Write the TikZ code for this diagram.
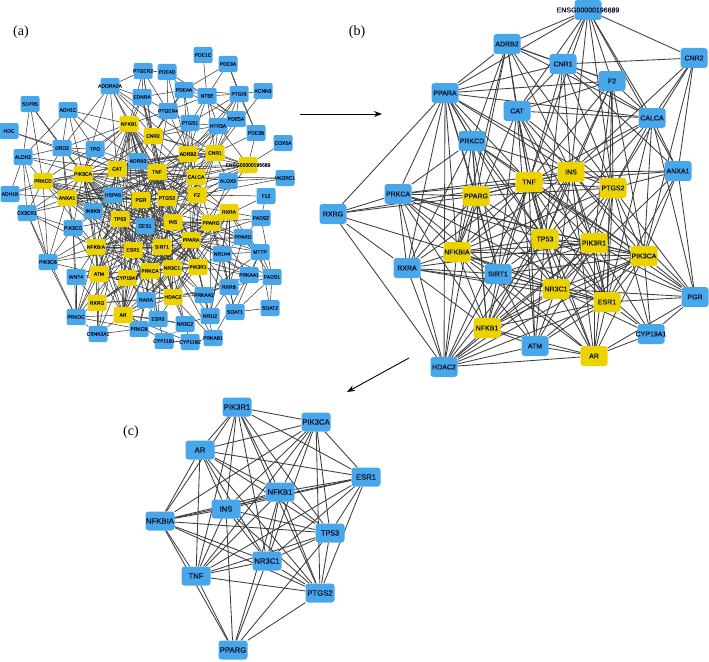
\documentclass[tikz,border=0pt]{standalone}
\usepackage{fontspec}
\setmainfont{Liberation Sans}
\newfontfamily\nodefont{Liberation Sans}[FakeBold=0.6]
\newfontfamily\labelfont{Liberation Serif}
\usetikzlibrary{arrows.meta,backgrounds}
\definecolor{nblue}{RGB}{72,166,234}
\definecolor{nyel}{RGB}{236,211,0}
\definecolor{edgec}{RGB}{62,62,62}
\definecolor{ntext}{RGB}{14,20,44}
\tikzset{
  gbox/.style={rectangle, inner sep=0pt, text=ntext},
  abox/.style={gbox, rounded corners=2pt, minimum width=19pt, minimum height=16pt, font=\nodefont\fontsize{5}{6}\selectfont},
  bbox/.style={gbox, rounded corners=3pt, minimum width=27pt, minimum height=20pt, font=\nodefont\fontsize{7}{8}\selectfont},
  cbox/.style={gbox, rounded corners=3pt, minimum width=29pt, minimum height=19pt, fill=nblue, font=\nodefont\fontsize{7.7}{9}\selectfont},
  aedge/.style={draw=edgec, line width=0.55pt},
  bedge/.style={draw=edgec, line width=0.85pt},
  plabel/.style={font=\labelfont\fontsize{14}{16}\selectfont, inner sep=0pt},
  flow/.style={-{Stealth[length=8pt,width=6pt]}, line width=0.9pt, draw=black}
}
\def\coreedges{TNF/INS,TNF/PTGS2,TNF/PPARG,TNF/NFKBIA,TNF/TP53,TNF/PIK3R1,TNF/PIK3CA,TNF/NR3C1,TNF/ESR1,TNF/NFKB1,TNF/AR,%
INS/PTGS2,INS/PPARG,INS/NFKBIA,INS/TP53,INS/PIK3R1,INS/PIK3CA,INS/NR3C1,INS/ESR1,INS/NFKB1,INS/AR,%
PTGS2/PPARG,PTGS2/NFKBIA,PTGS2/TP53,PTGS2/PIK3R1,PTGS2/PIK3CA,PTGS2/NR3C1,PTGS2/ESR1,PTGS2/NFKB1,PTGS2/AR,%
PPARG/NFKBIA,PPARG/TP53,PPARG/NR3C1,PPARG/NFKB1,%
NFKBIA/TP53,NFKBIA/PIK3R1,NFKBIA/PIK3CA,NFKBIA/NR3C1,NFKBIA/ESR1,NFKBIA/NFKB1,NFKBIA/AR,%
TP53/PIK3R1,TP53/PIK3CA,TP53/NR3C1,TP53/ESR1,TP53/NFKB1,TP53/AR,%
PIK3R1/PIK3CA,PIK3R1/NR3C1,PIK3R1/ESR1,PIK3R1/NFKB1,PIK3R1/AR,%
PIK3CA/NR3C1,PIK3CA/ESR1,PIK3CA/NFKB1,PIK3CA/AR,%
NR3C1/ESR1,NR3C1/NFKB1,NR3C1/AR,ESR1/NFKB1,ESR1/AR,NFKB1/AR}
\def\bperiph{ENSG/ADRB2,ENSG/PPARA,ENSG/CNR1,ENSG/CNR2,ENSG/F2,ENSG/CALCA,ENSG/INS,ENSG/TNF,ENSG/PTGS2,ENSG/ANXA1,ENSG/CAT,%
ADRB2/CNR1,ADRB2/F2,ADRB2/PPARA,ADRB2/CAT,ADRB2/TNF,ADRB2/INS,ADRB2/PTGS2,ADRB2/CALCA,ADRB2/PRKCD,ADRB2/PPARG,ADRB2/NFKBIA,%
CNR1/CNR2,CNR1/F2,CNR1/CALCA,CNR1/PPARA,CNR1/INS,CNR1/TNF,CNR1/PTGS2,CNR1/TP53,CNR1/CAT,CNR1/ANXA1,%
CNR2/CALCA,CNR2/ANXA1,CNR2/INS,CNR2/PTGS2,CNR2/PIK3CA,%
F2/CALCA,F2/INS,F2/TNF,F2/PTGS2,F2/PPARA,F2/CAT,F2/TP53,F2/PIK3R1,F2/ESR1,F2/PIK3CA,%
PPARA/CALCA,PPARA/PRKCD,PPARA/RXRG,PPARA/RXRA,PPARA/PPARG,PPARA/TNF,PPARA/INS,PPARA/PTGS2,PPARA/NFKBIA,PPARA/SIRT1,PPARA/NR3C1,PPARA/TP53,PPARA/PRKCA,%
CAT/INS,CAT/TNF,CAT/PTGS2,CAT/CALCA,CAT/TP53,CAT/NFKBIA,CAT/SIRT1,CAT/ESR1,CAT/PIK3R1,CAT/ATM,%
CALCA/INS,CALCA/TNF,CALCA/PTGS2,CALCA/ANXA1,CALCA/PIK3CA,CALCA/PGR,CALCA/ESR1,CALCA/TP53,%
PRKCD/PRKCA,PRKCD/TNF,PRKCD/INS,PRKCD/PPARG,PRKCD/TP53,PRKCD/NFKBIA,PRKCD/SIRT1,PRKCD/PIK3CA,PRKCD/RXRA,PRKCD/NFKB1,%
ANXA1/INS,ANXA1/PTGS2,ANXA1/TNF,ANXA1/PIK3CA,ANXA1/ESR1,ANXA1/NR3C1,ANXA1/PGR,%
PRKCA/PPARG,PRKCA/RXRG,PRKCA/RXRA,PRKCA/TNF,PRKCA/INS,PRKCA/NFKBIA,PRKCA/TP53,PRKCA/PIK3R1,PRKCA/PIK3CA,PRKCA/NFKB1,PRKCA/SIRT1,PRKCA/ESR1,PRKCA/HDAC2,%
RXRG/PPARG,RXRG/RXRA,RXRG/HDAC2,RXRG/NFKBIA,RXRG/TNF,%
RXRA/PPARG,RXRA/NFKBIA,RXRA/TNF,RXRA/SIRT1,RXRA/NR3C1,RXRA/HDAC2,RXRA/NFKB1,RXRA/ESR1,RXRA/PIK3R1,%
SIRT1/TNF,SIRT1/INS,SIRT1/PPARG,SIRT1/NFKBIA,SIRT1/TP53,SIRT1/PIK3R1,SIRT1/NR3C1,SIRT1/ESR1,SIRT1/NFKB1,SIRT1/AR,SIRT1/PIK3CA,SIRT1/HDAC2,SIRT1/ATM,%
PGR/PIK3CA,PGR/ESR1,PGR/AR,PGR/CYP19A1,PGR/TP53,PGR/PIK3R1,PGR/NR3C1,PGR/PTGS2,PGR/INS,PGR/TNF,%
CYP19A1/ESR1,CYP19A1/AR,CYP19A1/PIK3CA,CYP19A1/NR3C1,CYP19A1/PTGS2,CYP19A1/PIK3R1,CYP19A1/TP53,%
ATM/TP53,ATM/NFKB1,ATM/NR3C1,ATM/ESR1,ATM/AR,ATM/HDAC2,ATM/PIK3CA,ATM/NFKBIA,ATM/TNF,ATM/PIK3R1,%
HDAC2/NFKBIA,HDAC2/NFKB1,HDAC2/TP53,HDAC2/NR3C1,HDAC2/ESR1,HDAC2/AR,HDAC2/PIK3R1,HDAC2/PIK3CA,HDAC2/PPARG,HDAC2/TNF,HDAC2/PPARA}
\def\aperiph{HDC/DRD2,HDC/CAT,S1PR5/ALDH2,S1PR5/DRD2,S1PR5/PIK3CA,S1PR5/PRKCD,%
ADH1C/DRD2,ADH1C/ALDH2,ADH1C/NFKB1,ADH1C/TPO,ADH1C/PIK3CA,ADH1C/ADRB3,%
ADORA2A/DRD2,ADORA2A/NFKB1,ADORA2A/EDNRA,ADORA2A/PTGER2,ADORA2A/PIK3CA,ADORA2A/CAT,ADORA2A/TNF,ADORA2A/ADRB2,ADORA2A/CNR2,ADORA2A/CNR1,%
PTGER2/EDNRA,PTGER2/PDE4D,PTGER2/PTGER4,PTGER2/NFKB1,PTGER2/CNR2,PTGER2/TNF,%
EDNRA/NFKB1,EDNRA/PTGER4,EDNRA/PDE4A,EDNRA/CNR2,EDNRA/TNF,EDNRA/CAT,EDNRA/PTGS2,%
DRD2/ALDH2,DRD2/TPO,DRD2/PIK3CA,DRD2/CAT,DRD2/PRKCD,DRD2/ANXA1,DRD2/PIK3CD,DRD2/TNF,DRD2/NFKB1,%
TPO/CAT,TPO/PIK3CA,TPO/ANXA1,TPO/NFKB1,TPO/TNF,%
ALDH2/PIK3CA,ALDH2/CAT,ALDH2/ADH1B,ALDH2/PRKCD,ALDH2/CX3CR1,ALDH2/PIK3CB,%
ADH1B/PRKCD,ADH1B/ANXA1,ADH1B/PIK3CA,%
CX3CR1/PRKCD,CX3CR1/ANXA1,CX3CR1/PIK3CD,CX3CR1/PIK3CB,CX3CR1/PRKDC,CX3CR1/NFKBIA,CX3CR1/PIK3CA,CX3CR1/HSPA5,%
PIK3CD/PIK3CB,PIK3CD/ANXA1,PIK3CD/IKBKB,PIK3CD/NFKBIA,PIK3CD/PIK3CA,PIK3CD/TP53,PIK3CD/ATM,PIK3CD/WNT4,PIK3CD/PRKDC,PIK3CD/TNF,%
PIK3CB/NFKBIA,PIK3CB/ATM,PIK3CB/PRKDC,PIK3CB/PRKCD,PIK3CB/ANXA1,PIK3CB/TP53,PIK3CB/ESR1,%
WNT4/ATM,WNT4/NFKBIA,WNT4/PRKDC,WNT4/RXRG,WNT4/ESR1,WNT4/CYP19A1,%
PRKDC/RXRG,PRKDC/AR,PRKDC/ATM,PRKDC/CSNK2A1,PRKDC/NFKBIA,PRKDC/TP53,PRKDC/ESR1,PRKDC/PRKCB,%
CSNK2A1/AR,CSNK2A1/RXRG,CSNK2A1/ATM,CSNK2A1/ESR1,CSNK2A1/TP53,CSNK2A1/PRKCB,CSNK2A1/NFKBIA,%
PRKCB/AR,PRKCB/RARA,PRKCB/ESR2,PRKCB/PRKCA,PRKCB/NFKBIA,%
RARA/RXRG,RARA/AR,RARA/CYP19A1,RARA/ESR1,RARA/HDAC2,RARA/PRKCA,RARA/RXRA,RARA/PPARG,RARA/PPARA,RARA/RXRB,%
ESR2/AR,ESR2/HDAC2,ESR2/ESR1,ESR2/CYP19A1,ESR2/NR3C2,ESR2/PRKCA,ESR2/SIRT1,ESR2/PGR,%
NR3C2/AR,NR3C2/NR3C1,NR3C2/HDAC2,NR3C2/PGR,NR3C2/NR1I2,%
CYP11B1/NR3C2,CYP11B1/ESR2,CYP11B1/AR,CYP11B1/CYP11B2,CYP11B2/NR3C2,CYP11B2/PRKAB1,CYP11B2/AR,%
PRKAB1/PRKAA2,PRKAB1/PRKAA1,PRKAB1/SIRT1,PRKAB1/HDAC2,%
NR1I2/NR1H4,NR1I2/RXRA,NR1I2/PPARA,NR1I2/PPARG,NR1I2/PRKAA2,NR1I2/RXRB,NR1I2/NR3C1,%
SOAT1/SOAT2,SOAT1/MTTP,SOAT1/PPARA,SOAT1/NR1H4,SOAT1/RXRB,SOAT1/FADS1,SOAT2/FADS1,SOAT2/MTTP,%
RXRB/NR1H4,RXRB/PPARA,RXRB/RXRA,RXRB/PPARG,RXRB/PPARD,RXRB/PRKAA1,RXRB/HDAC2,RXRB/FADS1,%
PRKAA2/PRKAA1,PRKAA2/SIRT1,PRKAA2/PIK3R1,PRKAA2/HDAC2,PRKAA2/NR3C1,PRKAA2/PPARA,PRKAA2/MTTP,%
PRKAA1/SIRT1,PRKAA1/PPARA,PRKAA1/MTTP,PRKAA1/FADS1,PRKAA1/PPARG,PRKAA1/INS,PRKAA1/PIK3R1,%
FADS1/FADS2,FADS1/MTTP,FADS1/PPARD,FADS1/PPARA,%
MTTP/PPARA,MTTP/NR1H4,MTTP/PPARG,MTTP/PPARD,MTTP/INS,MTTP/RXRA,%
NR1H4/PPARA,NR1H4/PPARG,NR1H4/RXRA,NR1H4/PPARD,NR1H4/PIK3R1,%
PPARD/PPARA,PPARD/PPARG,PPARD/RXRA,PPARD/FADS2,PPARD/INS,PPARD/SIRT1,%
FADS2/PPARA,FADS2/RXRA,FADS2/PPARG,F12/F2,F12/FADS2,F12/PPARG,VKORC1/F2,VKORC1/ALOX5,VKORC1/CALCA,%
ALOX5/ENSG,ALOX5/PTGS2,ALOX5/CALCA,ALOX5/TNF,ALOX5/INS,ALOX5/PPARG,ALOX5/CNR1,COX5A/ENSG,%
PDE3B/PTGIS,PDE3B/PDE5A,PDE3B/ENSG,PDE3B/CNR1,PDE3B/NT5E,PDE3B/PDE3A,KCNN3/PTGIS,KCNN3/CNR1,%
PTGIS/PDE3A,PTGIS/NT5E,PTGIS/PDE4A,PTGIS/PTGS1,PTGIS/PDE5A,PTGIS/ADRB2,PTGIS/CNR1,PTGIS/PTGS2,%
PDE5A/NT5E,PDE5A/PDE4A,PDE5A/CNR1,PDE5A/HTR3A,PDE5A/ADRB2,%
HTR3A/CNR1,HTR3A/CNR2,HTR3A/PTGS1,HTR3A/ADRB2,HTR3A/TNF,HTR3A/CALCA,HTR3A/NT5E,HTR3A/ENSG,%
PTGS1/PTGS2,PTGS1/CNR2,PTGS1/ADRB2,PTGS1/TNF,PTGS1/PDE4A,PTGS1/CALCA,PTGS1/PTGER4,PTGS1/NT5E,%
NT5E/PDE1C,NT5E/PDE3A,NT5E/PDE4A,NT5E/ADRB2,NT5E/CNR1,NT5E/PTGER4,NT5E/PDE4D,%
PDE4A/PDE4D,PDE4A/PTGER4,PDE4A/CNR2,PDE4A/ADRB2,PDE4A/PDE3A,PDE4D/PTGER4,PDE4D/ADRB2,%
PTGER4/CNR2,PTGER4/TNF,PTGER4/ADRB2,PTGER4/NFKB1,%
ADRB3/CAT,ADRB3/CNR2,ADRB3/ADRB2,ADRB3/TNF,ADRB3/NFKB1,ADRB3/PIK3CA,ADRB3/PGR,ADRB3/INS,ADRB3/CNR1,%
HSPA5/CAT,HSPA5/PIK3CA,HSPA5/ANXA1,HSPA5/TP53,HSPA5/PGR,HSPA5/TNF,HSPA5/IKBKB,HSPA5/ESR1,%
IKBKB/NFKB1,IKBKB/NFKBIA,IKBKB/TNF,IKBKB/TP53,IKBKB/PIK3CA,IKBKB/ANXA1,IKBKB/PRKCD,IKBKB/SIRT1,IKBKB/INS,%
CES1/PGR,CES1/INS,CES1/TP53,CES1/SIRT1,CES1/ESR1,CES1/PTGS2,CES1/PPARA,CES1/PPARG,CES1/TNF}
\begin{document}
\begin{tikzpicture}[x=1pt,y=-1pt]
\useasboundingbox (0,0) rectangle (709,661);
% ---------- panel (a) ----------
\foreach \n/\x/\y/\c in {PTGER2/143/71/nblue,ADORA2A/110/86/nblue,EDNRA/142/97/nblue,S1PR5/30/104/nblue,ADH1C/68/110/nblue,HDC/9/131/nblue,DRD2/62/148/nblue,TPO/95/149/nblue,ALDH2/23/157/nblue,ADRB3/138/161/nblue,ADH1B/10/194/nblue,PDE1C/203/55/nblue,PDE3A/228/64/nblue,PDE4D/167/72/nblue,PDE4A/184/90/nblue,NT5E/207/96/nblue,PTGIS/239/94/nblue,KCNN3/263/91/nblue,PTGER4/168/111/nblue,PTGS1/190/123/nblue,HTR3A/218/126/nblue,PDE5A/236/119/nblue,PDE3B/256/133/nblue,COX5A/283/143/nblue,ALOX5/228/181/nblue,VKORC1/285/178/nblue,F12/266/196/nblue,FADS2/261/218/nblue,HSPA5/113/195/nblue,IKBKB/93/211/nblue,CES1/145/226/nblue,CX3CR1/27/213/nblue,PIK3CD/73/228/nblue,PIK3CB/48/262/nblue,WNT4/76/277/nblue,PRKDC/76/317/nblue,CSNK2A1/98/334/nblue,PRKCB/139/329/nblue,RARA/146/300/nblue,ESR2/158/319/nblue,NR3C2/185/324/nblue,CYP11B1/164/341/nblue,CYP11B2/190/342/nblue,PRKAB1/213/338/nblue,NR1I2/210/316/nblue,SOAT1/235/312/nblue,SOAT2/270/308/nblue,RXRB/229/287/nblue,PRKAA2/204/295/nblue,PRKAA1/249/275/nblue,FADS1/272/277/nblue,MTTP/260/252/nblue,NR1H4/222/254/nblue,PPARD/243/237/nblue,%
NFKB1/129/124/nyel,CNR2/153/136/nyel,ADRB2/188/154/nyel,CNR1/215/153/nyel,TNF/157/172/nyel,CALCA/196/177/nyel,CAT/117/169/nyel,PIK3CA/83/174/nyel,PRKCD/43/181/nyel,ANXA1/67/198/nyel,PGR/141/200/nyel,PTGS2/167/198/nyel,F2/197/195/nyel,RXRA/229/212/nyel,PPARG/211/223/nyel,INS/173/222/nyel,TP53/120/219/nyel,NFKBIA/96/247/nyel,ESR1/133/250/nyel,SIRT1/162/247/nyel,PPARA/191/240/nyel,PRKCA/150/271/nyel,NR3C1/172/268/nyel,PIK3R1/198/267/nyel,ATM/99/274/nyel,CYP19A1/127/278/nyel,HDAC2/173/297/nyel,RXRG/97/303/nyel,AR/123/315/nyel}
  \node[abox,fill=\c] (a-\n) at (\x,\y) {\makebox[0pt]{\n}};
\node[abox,fill=nyel] (a-ENSG) at (248,165) {\makebox[0pt]{ENSG00000196689}};
% ---------- panel (b) ----------
\foreach \n/\x/\y/\c in {ADRB2/507/44/nblue,CNR1/563/64/nblue,CNR2/694/58/nblue,F2/612/81/nblue,PPARA/445/93/nblue,CAT/517/111/nblue,CALCA/652/118/nblue,PRKCD/472/141/nblue,INS/571/172/nyel,TNF/529/182/nyel,ANXA1/678/171/nblue,PTGS2/613/188/nyel,PRKCA/398/194/nblue,PPARG/476/196/nyel,RXRG/333/214/nblue,TP53/545/239/nyel,PIK3R1/594/243/nyel,NFKBIA/457/252/nyel,PIK3CA/644/256/nyel,RXRA/407/268/nblue,SIRT1/498/274/nblue,NR3C1/556/289/nyel,PGR/695/297/nblue,ESR1/607/302/nyel,NFKB1/487/328/nyel,CYP19A1/651/334/nblue,ATM/535/346/nblue,AR/594/356/nyel,HDAC2/444/367/nblue}
  \node[bbox,fill=\c] (b-\n) at (\x,\y) {\makebox[0pt]{\n}};
\node[bbox,fill=nblue] (b-ENSG) at (588,10) {\makebox[0pt]{ENSG00000196689}};
% ---------- panel (c) ----------
\foreach \n/\x/\y in {PIK3R1/237/407,PIK3CA/316/422,AR/200/450,ESR1/366/477,NFKB1/280/492,INS/226/509,NFKBIA/160/521,TP53/330/533,NR3C1/267/561,TNF/196/576,PTGS2/320/593,PPARG/233/650}
  \node[cbox] (c-\n) at (\x,\y) {\makebox[0pt]{\n}};
% ---------- labels and arrows ----------
\node[plabel] (la) at (21,32) {(a)};
\node[plabel] (lb) at (357,32) {(b)};
\node[plabel] (lc) at (131,432) {(c)};
\coordinate (ar1s) at (300,114);
\coordinate (ar1e) at (382,114);
\coordinate (ar2s) at (409,358);
\coordinate (ar2e) at (347,392);
\draw[flow] (ar1s) -- (ar1e);
\draw[flow] (ar2s) -- (ar2e);
% ---------- edges ----------
\begin{pgfonlayer}{background}
\fill[white] (0,0) rectangle (709,661);
\foreach \u/\v in \coreedges {
  \draw[aedge] (a-\u) -- (a-\v);
  \draw[bedge] (b-\u) -- (b-\v);
  \draw[bedge] (c-\u) -- (c-\v);
}
\foreach \u/\v in \bperiph {
  \draw[aedge] (a-\u) -- (a-\v);
  \draw[bedge] (b-\u) -- (b-\v);
}
\foreach \u/\v in \aperiph {
  \draw[aedge] (a-\u) -- (a-\v);
}
\end{pgfonlayer}
\end{tikzpicture}
\end{document}
